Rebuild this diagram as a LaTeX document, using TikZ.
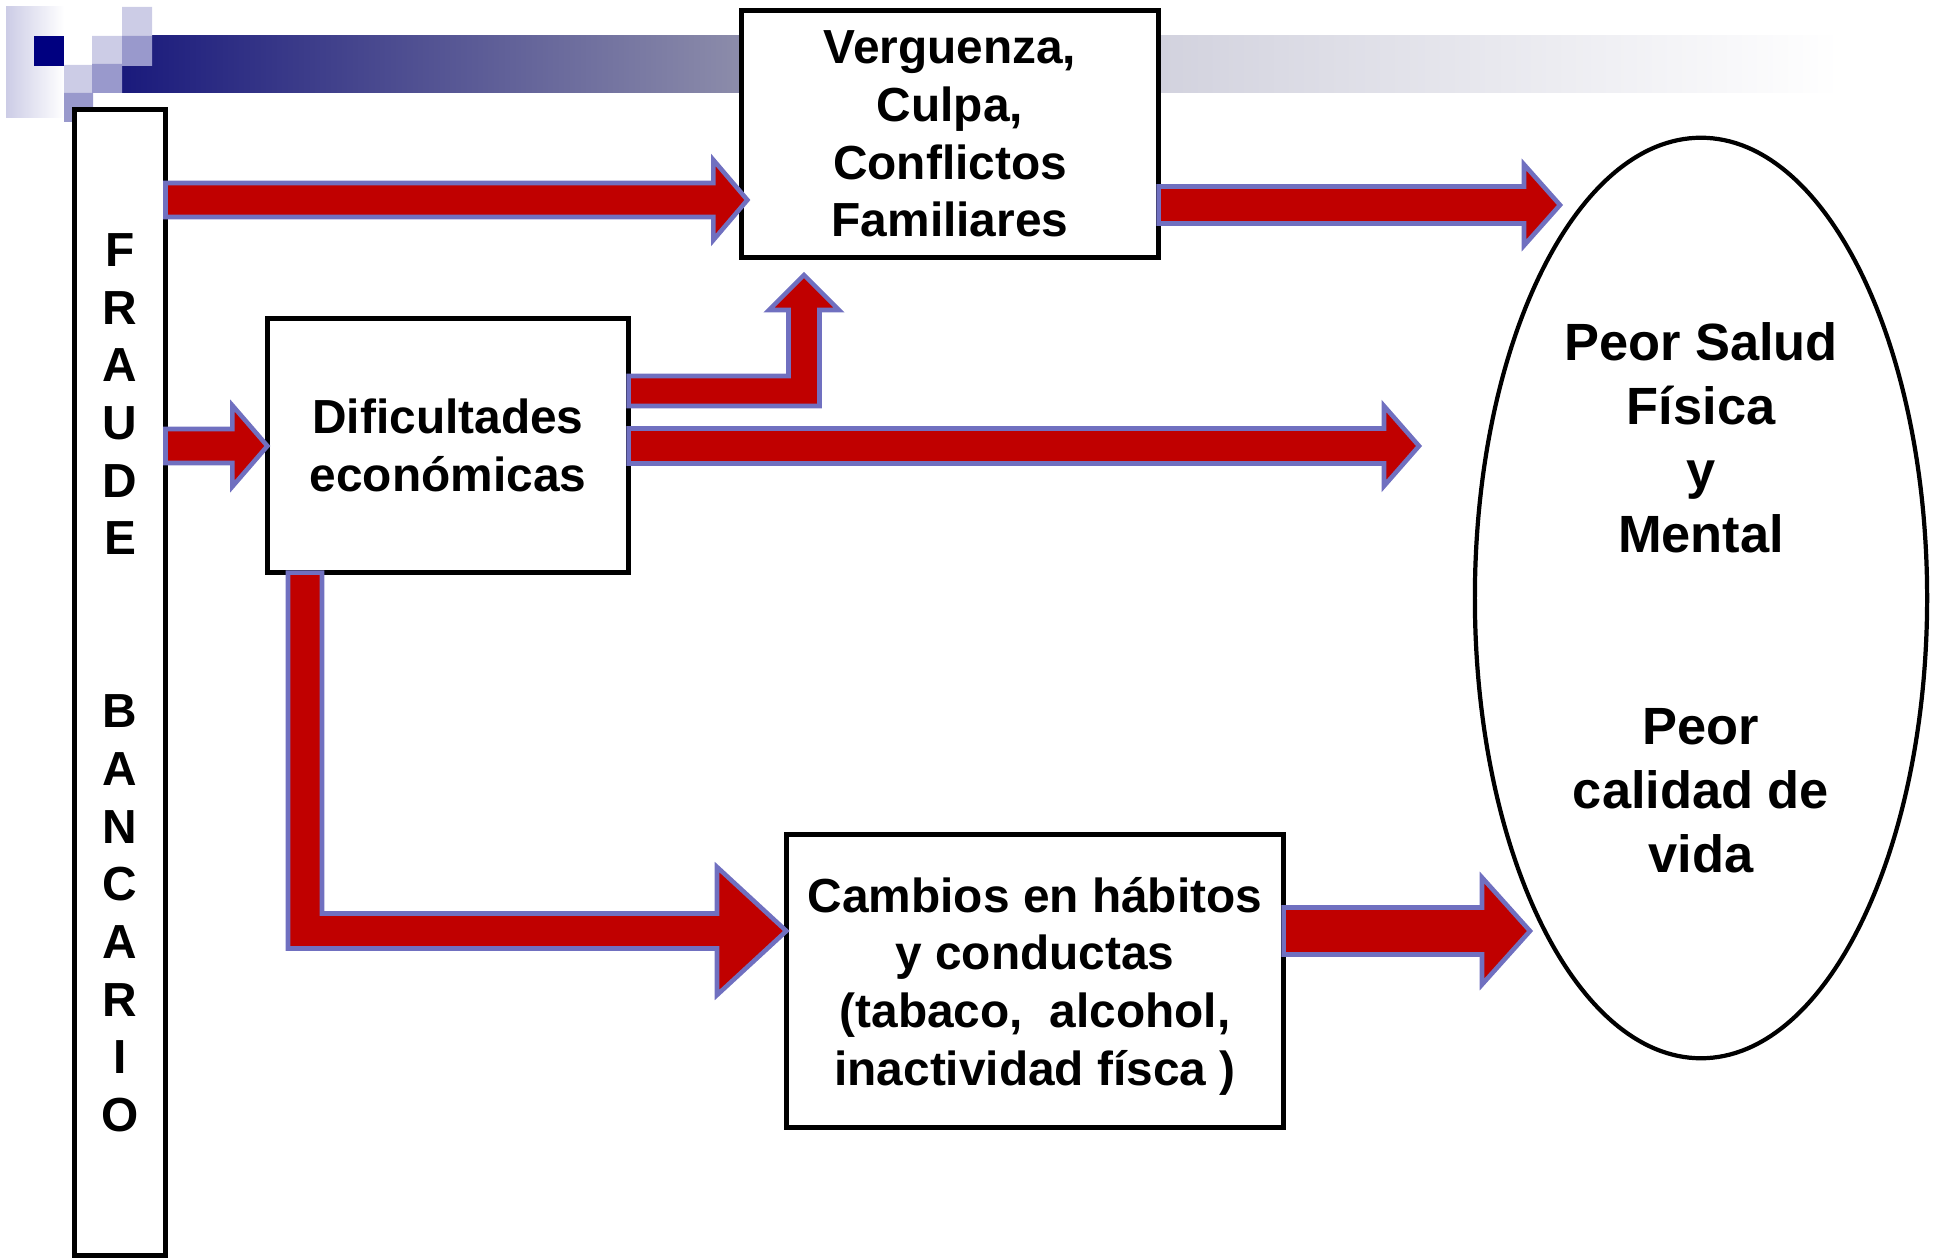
\documentclass[tikz,border=0pt]{standalone}
\usepackage{fontspec}
\setmainfont{Liberation Sans}
\usetikzlibrary{calc,shapes.geometric}
\definecolor{arrowred}{RGB}{192,0,0}
\definecolor{arrowedge}{RGB}{112,112,192}
\definecolor{navy}{RGB}{0,0,128}
\definecolor{lightsq}{RGB}{204,204,230}
\definecolor{midsq}{RGB}{153,153,204}
\definecolor{barA}{RGB}{26,26,124}
\definecolor{barB}{RGB}{140,140,170}
\definecolor{barC}{RGB}{210,210,222}
\tikzset{
  box/.style={draw, line width=1.4pt, fill=white, inner sep=0pt, outer sep=0pt,
    align=center, text depth=0pt, font=\bfseries\fontsize{13.6}{16.4}\selectfont},
  oval/.style={draw, ellipse, line width=1.2pt, inner sep=0pt, outer sep=0pt,
    align=center, font=\bfseries\fontsize{14.9}{18.2}\selectfont},
  bigarrow/.style={fill=arrowred, draw=arrowedge, line width=1.3pt, line join=miter},
}
% block arrow pointing right: start, tip, half shaft, half head, head length
\newcommand\rarrow[5]{%
  \draw[bigarrow] ($(#1)+(0,-#3)$) -- ($(#2)+(-#5,-#3)$) -- ($(#2)+(-#5,-#4)$)
    -- (#2) -- ($(#2)+(-#5,#4)$) -- ($(#2)+(-#5,#3)$) -- ($(#1)+(0,#3)$) -- cycle;}
\begin{document}
\begin{tikzpicture}[x=0.01cm, y=-0.01cm]
      \useasboundingbox (0,0) rectangle (1933,1258);
      % title bar
      \shade[left color=lightsq, right color=white] (6,7) rectangle (64,118);
      \shade[left color=barA, right color=barB] (122,36) rectangle (740,93);
      \shade[left color=barB, right color=barC] (740,36) rectangle (1160,93);
      \shade[left color=barC, right color=white] (1160,36) rectangle (1840,93);
      \fill[navy] (34,36) rectangle (64,66);
      \fill[lightsq] (122,7) rectangle (152,36) (92,36) rectangle (122,64)
        (64,65) rectangle (92,93);
      \fill[midsq] (122,36) rectangle (152,66) (92,64) rectangle (122,93)
        (64,93) rectangle (93,122);
      % boxes
      \node[box, minimum width=0.91cm, minimum height=11.46cm] (frau) at (120,682.5)
        {F\\R\\A\\U\\D\\E\\~\\~\\B\\A\\N\\C\\A\\R\\I\\O};
      \node[box, minimum width=4.17cm, minimum height=2.47cm] (verg) at (950,134)
        {Verguenza,\\Culpa,\\Conflictos\\Familiares};
      \node[box, minimum width=3.61cm, minimum height=2.54cm] (dif) at (448,445.5)
        {Dificultades\\económicas};
      \node[box, minimum width=4.97cm, minimum height=2.93cm] (camb) at (1035,981)
        {Cambios en hábitos\\y conductas\\(tabaco,\ \ alcohol,\\inactividad físca )};
      \node[oval, minimum width=4.52cm, minimum height=9.2cm] (salud) at (1701,598)
        {Peor Salud\\Física\\y\\Mental\\~\\~\\Peor\\calidad de\\vida};
      % arrow ends
      \coordinate (t1) at ($(verg.west |- 0,200)+(6,0)$);
      \coordinate (t2) at (1560,205);
      \coordinate (t4) at (1419,446);
      \coordinate (t6) at (1530,931);
      \coordinate (t7) at (804,275);
      % arrows
      \rarrow{frau.east |- 0,200}{t1}{17}{40}{34}
      \rarrow{verg.east |- 0,205}{t2}{18.5}{40.5}{36}
      \rarrow{frau.east |- 0,446}{dif.west |- 0,446}{17}{40.5}{35}
      \rarrow{dif.east |- 0,446}{t4}{17.5}{40}{35}
      \rarrow{camb.east |- 0,931}{t6}{23.5}{53.5}{48}
      \draw[bigarrow] (288,0 |- dif.south) -- (288,948.5) -- (717,948.5) -- (717,995)
        -- (camb.west |- 0,931) -- (717,867) -- (717,913.5) -- (322,913.5)
        -- (322,0 |- dif.south) -- cycle;
      \draw[bigarrow] (dif.east |- 0,376) -- (788.5,376) -- (788.5,310) -- (769,310)
        -- (t7) -- (839,310) -- (819.5,310) -- (819.5,406) -- (dif.east |- 0,406) -- cycle;
    \end{tikzpicture}
\end{document}
